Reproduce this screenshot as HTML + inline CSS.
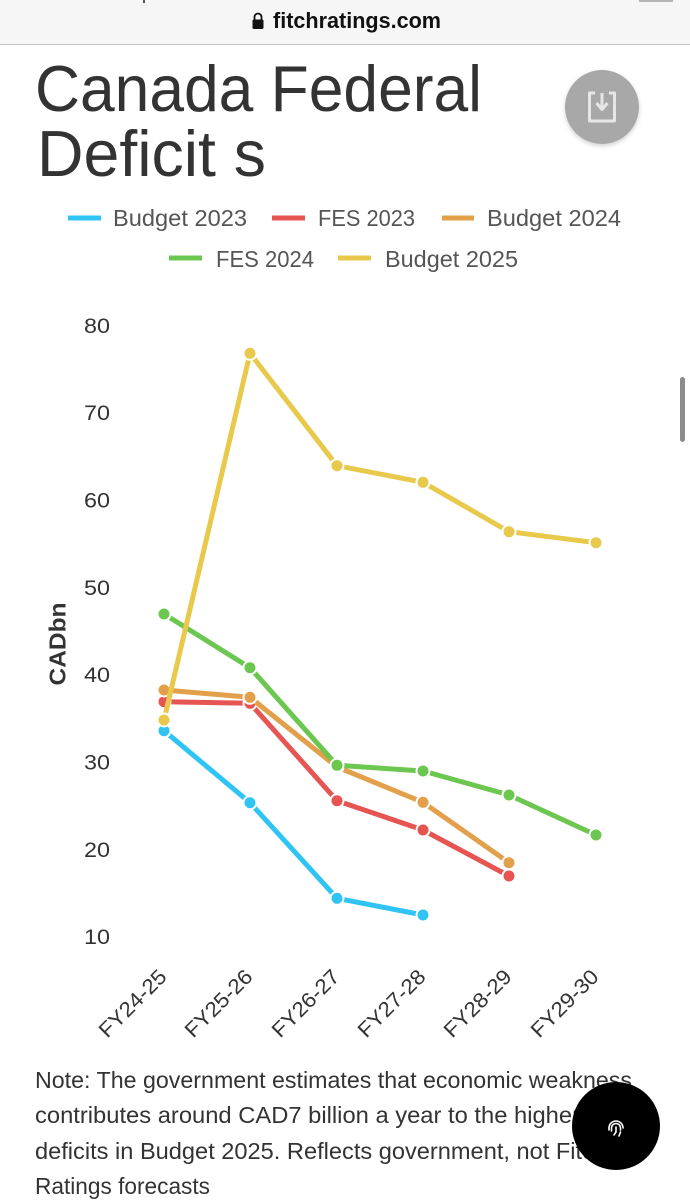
<!DOCTYPE html>
<html>
<head>
<meta charset="utf-8">
<style>
  html, body { margin:0; padding:0; background:#ffffff; }
  body { width:690px; height:1200px; overflow:hidden; }
  svg { display:block; }
  text { font-family:"Liberation Sans", sans-serif; }
</style>
</head>
<body>
<svg width="690" height="1200" viewBox="0 0 690 1200" xmlns="http://www.w3.org/2000/svg">
  <defs>
    <filter id="sh" x="-30%" y="-30%" width="160%" height="170%">
      <feDropShadow dx="0" dy="2" stdDeviation="2.5" flood-color="#000" flood-opacity="0.18"/>
    </filter>
  </defs>

  <!-- Browser bar -->
  <rect x="0" y="0" width="690" height="44" fill="#f6f6f6"/>
  <rect x="0" y="44" width="690" height="1" fill="#c4c4c4"/>
  <rect x="143" y="0" width="2" height="3" fill="#555"/>
  <rect x="639" y="0" width="34" height="2" fill="#b5b5b5"/>
  <!-- lock -->
  <path d="M254.5 20 v-3 a3.5 3.5 0 0 1 7 0 v3" fill="none" stroke="#111" stroke-width="1.8"/>
  <rect x="252.5" y="19.5" width="11" height="9.5" rx="1.5" fill="#111"/>
  <text x="273" y="28" font-size="22" font-weight="bold" fill="#111" textLength="168" lengthAdjust="spacingAndGlyphs">fitchratings.com</text>

  <!-- Title -->
  <text x="35" y="111" font-size="65" fill="#333" textLength="447" lengthAdjust="spacingAndGlyphs">Canada Federal</text>
  <text x="37" y="176" font-size="65" fill="#333" textLength="229" lengthAdjust="spacingAndGlyphs">Deficit s</text>

  <!-- Download button -->
  <circle cx="602" cy="107" r="37" fill="#a8a8a8" filter="url(#sh)"/>
  <path d="M595 93 h-5.5 v28 h25 v-28 h-5.5" fill="none" stroke="#e6e6e6" stroke-width="3" stroke-linejoin="round"/>
  <line x1="602" y1="93" x2="602" y2="107" stroke="#e6e6e6" stroke-width="3"/>
  <path d="M596.5 103 L602 109.5 L607.5 103" fill="none" stroke="#e6e6e6" stroke-width="3" stroke-linejoin="round"/>

  <!-- Legend -->
  <g font-size="23" fill="#555">
    <rect x="68" y="215.5" width="33" height="5" fill="#2fc4f4"/>
    <text x="113" y="226" textLength="134" lengthAdjust="spacingAndGlyphs">Budget 2023</text>
    <rect x="272" y="215.5" width="33" height="5" fill="#e65552"/>
    <text x="318" y="226" textLength="97" lengthAdjust="spacingAndGlyphs">FES 2023</text>
    <rect x="442" y="215.5" width="32" height="5" fill="#e3a04a"/>
    <text x="487" y="226" textLength="134" lengthAdjust="spacingAndGlyphs">Budget 2024</text>
    <rect x="169" y="255.5" width="33" height="5" fill="#6cc750"/>
    <text x="216" y="267" textLength="98" lengthAdjust="spacingAndGlyphs">FES 2024</text>
    <rect x="338" y="255.5" width="33" height="5" fill="#e8c94b"/>
    <text x="385" y="267" textLength="133" lengthAdjust="spacingAndGlyphs">Budget 2025</text>
  </g>

  <!-- Y axis labels -->
  <g font-size="21" fill="#333" text-anchor="end">
    <text x="110" y="333" textLength="26" lengthAdjust="spacingAndGlyphs">80</text>
    <text x="110" y="420" textLength="26" lengthAdjust="spacingAndGlyphs">70</text>
    <text x="110" y="507.5" textLength="26" lengthAdjust="spacingAndGlyphs">60</text>
    <text x="110" y="595" textLength="26" lengthAdjust="spacingAndGlyphs">50</text>
    <text x="110" y="682" textLength="26" lengthAdjust="spacingAndGlyphs">40</text>
    <text x="110" y="769.5" textLength="26" lengthAdjust="spacingAndGlyphs">30</text>
    <text x="110" y="857" textLength="26" lengthAdjust="spacingAndGlyphs">20</text>
    <text x="110" y="944" textLength="26" lengthAdjust="spacingAndGlyphs">10</text>
  </g>
  <text x="0" y="0" font-size="23" font-weight="bold" fill="#333" text-anchor="middle" transform="translate(65.5,644) rotate(-90)" textLength="83" lengthAdjust="spacingAndGlyphs">CADbn</text>

  <!-- X axis labels -->
  <g font-size="21" fill="#333" text-anchor="end">
    <text x="168" y="978" transform="rotate(-45 168 978)" textLength="86" lengthAdjust="spacingAndGlyphs">FY24-25</text>
    <text x="254" y="978" transform="rotate(-45 254 978)" textLength="86" lengthAdjust="spacingAndGlyphs">FY25-26</text>
    <text x="341" y="978" transform="rotate(-45 341 978)" textLength="86" lengthAdjust="spacingAndGlyphs">FY26-27</text>
    <text x="427" y="978" transform="rotate(-45 427 978)" textLength="86" lengthAdjust="spacingAndGlyphs">FY27-28</text>
    <text x="513" y="978" transform="rotate(-45 513 978)" textLength="86" lengthAdjust="spacingAndGlyphs">FY28-29</text>
    <text x="600" y="978" transform="rotate(-45 600 978)" textLength="86" lengthAdjust="spacingAndGlyphs">FY29-30</text>
  </g>

  <!-- Series -->
  <g fill="none" stroke-width="5" stroke-linejoin="round" stroke-linecap="round">
    <!-- Budget 2023 -->
    <polyline stroke="#2fc4f4" points="164,730.7 250,802.7 337,898.3 423,915"/>
    <g fill="#2fc4f4" stroke="#fff" stroke-width="2">
      <circle cx="164" cy="730.7" r="6.5"/><circle cx="250" cy="802.7" r="6.5"/><circle cx="337" cy="898.3" r="6.5"/><circle cx="423" cy="915" r="6.5"/>
    </g>
    <!-- FES 2023 -->
    <polyline stroke="#e65552" points="164,701.7 250,703.3 337,800.7 423,830 509,876"/>
    <g fill="#e65552" stroke="#fff" stroke-width="2">
      <circle cx="164" cy="701.7" r="6.5"/><circle cx="250" cy="703.3" r="6.5"/><circle cx="337" cy="800.7" r="6.5"/><circle cx="423" cy="830" r="6.5"/><circle cx="509" cy="876" r="6.5"/>
    </g>
    <!-- Budget 2024 -->
    <polyline stroke="#e3a04a" points="164,690 250,697.3 337,767 423,802.3 509,862.7"/>
    <g fill="#e3a04a" stroke="#fff" stroke-width="2">
      <circle cx="164" cy="690" r="6.5"/><circle cx="250" cy="697.3" r="6.5"/><circle cx="337" cy="767" r="6.5"/><circle cx="423" cy="802.3" r="6.5"/><circle cx="509" cy="862.7" r="6.5"/>
    </g>
    <!-- FES 2024 -->
    <polyline stroke="#6cc750" points="164,614 250,667.7 337,765.3 423,771 509,795 596,835"/>
    <g fill="#6cc750" stroke="#fff" stroke-width="2">
      <circle cx="164" cy="614" r="6.5"/><circle cx="250" cy="667.7" r="6.5"/><circle cx="337" cy="765.3" r="6.5"/><circle cx="423" cy="771" r="6.5"/><circle cx="509" cy="795" r="6.5"/><circle cx="596" cy="835" r="6.5"/>
    </g>
    <!-- Budget 2025 -->
    <polyline stroke="#e8c94b" points="164,720 250,353.3 337,465.7 423,482.3 509,531.7 596,542.7"/>
    <g fill="#e8c94b" stroke="#fff" stroke-width="2">
      <circle cx="164" cy="720" r="6.5"/><circle cx="250" cy="353.3" r="6.5"/><circle cx="337" cy="465.7" r="6.5"/><circle cx="423" cy="482.3" r="6.5"/><circle cx="509" cy="531.7" r="6.5"/><circle cx="596" cy="542.7" r="6.5"/>
    </g>
  </g>

  <!-- Scroll indicator -->
  <rect x="680" y="377" width="5" height="65" rx="2.5" fill="#8c8c8c"/>

  <!-- Note -->
  <g font-size="23.3" fill="#333">
    <text x="35" y="1088" textLength="597" lengthAdjust="spacingAndGlyphs">Note: The government estimates that economic weakness</text>
    <text x="35" y="1123" textLength="545" lengthAdjust="spacingAndGlyphs">contributes around CAD7 billion a year to the higher</text>
    <text x="35" y="1159" textLength="572" lengthAdjust="spacingAndGlyphs">deficits in Budget 2025. Reflects government, not Fitch</text>
    <text x="35" y="1194" textLength="175" lengthAdjust="spacingAndGlyphs">Ratings forecasts</text>
  </g>

  <!-- Floating black button -->
  <circle cx="616" cy="1126" r="44" fill="#000"/>
  <g fill="none" stroke="#fff" stroke-width="1.6" stroke-linecap="round">
    <path d="M609 1128 a7 7 0 0 1 14 0"/>
    <path d="M611.5 1131 v-3 a4.5 4.5 0 0 1 9 0 v2"/>
    <path d="M616 1127 v5 l-2 3"/>
    <path d="M620.5 1132 l-1.5 4"/>
    <path d="M609 1128 v2"/>
  </g>
</svg>
</body>
</html>
